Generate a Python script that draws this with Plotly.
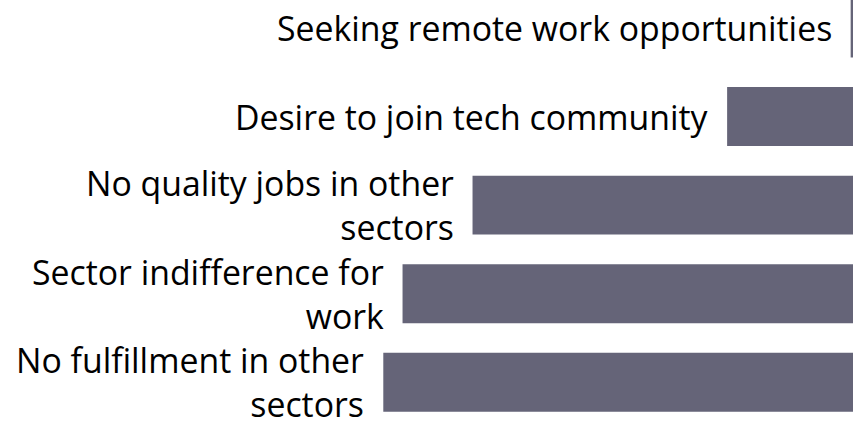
import plotly.graph_objects as go

# Reasons for entering the tech sector (share of respondents, %)
reasons = [
    "No fulfillment in other<br>sectors",
    "Sector indifference for<br>work",
    "No quality jobs in other<br>sectors",
    "Desire to join tech community",
    "Seeking remote work opportunities",
]
shares = [100.0, 95.9, 81.0, 26.8, 0.5]

BAR_COLOR = "#656478"
FONT = "Open Sans"

fig = go.Figure(
    go.Bar(
        x=shares,
        y=list(range(len(reasons))),
        orientation="h",
        width=0.666,
        marker=dict(color=BAR_COLOR, line=dict(width=0)),
        hoverinfo="skip",
    )
)

# Category labels sit just to the left of each bar's end
for i, (label, val) in enumerate(zip(reasons, shares)):
    fig.add_annotation(
        x=val,
        y=i,
        xref="x",
        yref="y",
        text=label,
        showarrow=False,
        xanchor="right",
        yanchor="middle",
        align="right",
        xshift=-18,
        borderpad=0,
        font=dict(family=FONT, size=33.8, color="#000000"),
    )

fig.update_layout(
    width=853,
    height=423,
    margin=dict(l=0, r=0, t=0, b=0),
    paper_bgcolor="white",
    plot_bgcolor="white",
    showlegend=False,
    xaxis=dict(
        range=[181.6, 0],
        visible=False,
        fixedrange=True,
    ),
    yaxis=dict(
        range=[-0.46, 4.316],
        visible=False,
        fixedrange=True,
    ),
)

fig.write_html("out.html", config={"displayModeBar": False})
